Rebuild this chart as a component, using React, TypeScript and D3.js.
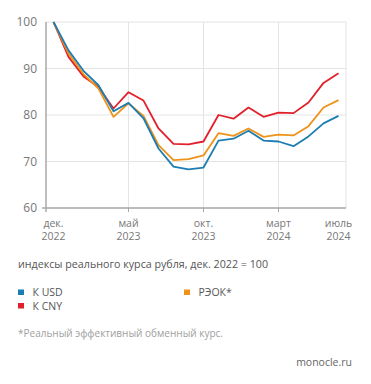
import React from 'react';
import * as d3 from 'd3';

// months dec 2022 .. jul 2024
const months = [
  'дек. 2022', 'янв. 2023', 'февр. 2023', 'март 2023', 'апр. 2023', 'май 2023',
  'июнь 2023', 'июль 2023', 'авг. 2023', 'сент. 2023', 'окт. 2023', 'нояб. 2023',
  'дек. 2023', 'янв. 2024', 'февр. 2024', 'март 2024', 'апр. 2024', 'май 2024',
  'июнь 2024', 'июль 2024',
];

const usd = [100, 93.9, 89.5, 86.4, 80.8, 82.6, 79.3, 72.8, 68.9, 68.3, 68.7, 74.5, 74.9, 76.6, 74.5, 74.3, 73.3, 75.4, 78.2, 79.8];
const cny = [100, 92.5, 88.3, 86.0, 81.4, 84.9, 83.1, 77.1, 73.8, 73.7, 74.3, 80.0, 79.2, 81.6, 79.6, 80.5, 80.4, 82.7, 86.9, 89.0];
const reer = [100, 93.2, 88.8, 85.7, 79.6, 82.5, 79.8, 73.5, 70.3, 70.5, 71.3, 76.1, 75.5, 77.1, 75.3, 75.8, 75.6, 77.6, 81.6, 83.2];

const yTicks = [60, 70, 80, 90, 100];
const xTickIdx = [0, 5, 10, 15, 19];
const xTickMonths = ['дек.', 'май', 'окт.', 'март', 'июль'];
const xTickYears = ['2022', '2023', '2023', '2024', '2024'];

const series = [
  { name: 'К CNY', values: cny, color: '#e2202b' },
  { name: 'РЭОК*', values: reer, color: '#ef9219' },
  { name: 'К USD', values: usd, color: '#1b7db1' },
];

const legend = [
  { name: 'К USD', color: '#1b7db1', col: 0, row: 0 },
  { name: 'К CNY', color: '#e2202b', col: 0, row: 1 },
  { name: 'РЭОК*', color: '#ef9219', col: 1, row: 0 },
];

const FONT = "'Open Sans', sans-serif";

export default function App() {
  const W = 371;
  const H = 384;
  const left = 46, right = 346, top = 22, bottom = 208;

  const x = d3.scaleLinear().domain([-0.5, months.length - 0.5]).range([left, right]);
  const y = d3.scaleLinear().domain([60, 100]).range([bottom, top]);

  const line = d3.line<number>()
    .x((_, i) => x(i))
    .y(d => y(d));

  return (
    <div style={{ position: 'absolute', left: 0, top: 0 }}>
      <svg width={W} height={H} style={{ display: 'block', background: '#fff' }} fontFamily={FONT}>
        {/* grid */}
        {yTicks.map(t => (
          <line key={'gy' + t} x1={left} x2={right} y1={y(t)} y2={y(t)} stroke="#e4e4e4" strokeWidth={1} />
        ))}
        {xTickIdx.slice(1, 4).map(i => (
          <line key={'gx' + i} x1={x(i)} x2={x(i)} y1={top} y2={bottom} stroke="#e4e4e4" strokeWidth={1} />
        ))}
        <line x1={right} x2={right} y1={top} y2={bottom} stroke="#e4e4e4" strokeWidth={1} />

        {/* lines */}
        {series.map(s => (
          <path key={s.name} d={line(s.values) || ''} fill="none" stroke={s.color} strokeWidth={1.8} strokeLinejoin="round" />
        ))}

        {/* axes */}
        <line x1={left} x2={left} y1={top} y2={bottom + 4} stroke="#a8a8a8" strokeWidth={1.5} />
        <line x1={left - 4} x2={right} y1={bottom} y2={bottom} stroke="#a8a8a8" strokeWidth={1.5} />
        {xTickIdx.slice(1, 4).map(i => (
          <line key={'tx' + i} x1={x(i)} x2={x(i)} y1={bottom} y2={bottom + 4} stroke="#a8a8a8" strokeWidth={1} />
        ))}

        {yTicks.map(t => (
          <text key={'ly' + t} x={37} y={y(t)} dy="0.35em" textAnchor="end" fontSize={12} fill="#777">{t}</text>
        ))}
        {xTickIdx.map((i, k) => (
          <g key={'lx' + i}>
            <text x={x(i)} y={226.5} textAnchor="middle" fontSize={10.5} fill="#777">{xTickMonths[k]}</text>
            <text x={x(i)} y={240} textAnchor="middle" fontSize={10.5} fill="#777">{xTickYears[k]}</text>
          </g>
        ))}

        <text x={18} y={268} fontSize={10.7} fill="#555">индексы реального курса рубля, дек. 2022 = 100</text>

        {legend.map(l => (
          <g key={l.name} transform={`translate(${18 + l.col * 166},${289.5 + l.row * 13.5})`}>
            <rect width={6} height={5.5} fill={l.color} />
            <text x={14.5} y={3} dy="0.35em" fontSize={10.5} fill="#555">{l.name}</text>
          </g>
        ))}

        <text x={18} y={337} fontSize={10} fill="#a0a0a0">*Реальный эффективный обменный курс.</text>
        <text x={352} y={366} textAnchor="end" fontSize={10.5} fill="#666">monocle.ru</text>
      </svg>
    </div>
  );
}
